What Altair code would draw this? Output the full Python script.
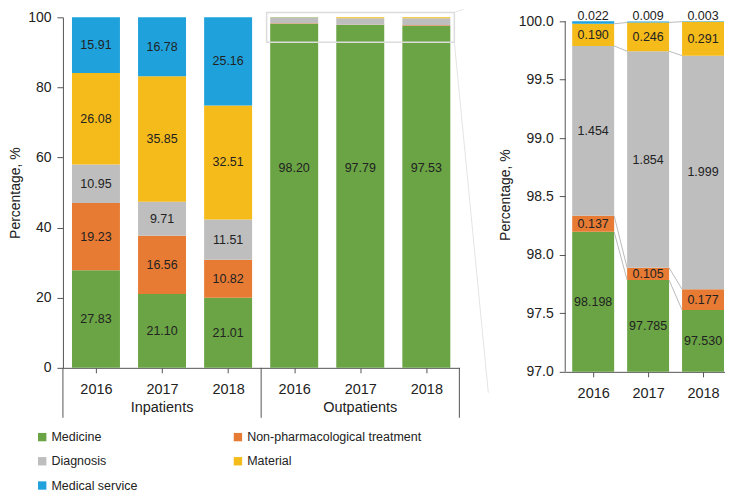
import altair as alt
import pandas as pd

FONT = "Liberation Sans"

categories = ["Medicine", "Non-pharmacological treatment", "Diagnosis", "Material", "Medical service"]
colors = ["#6aa444", "#e77b34", "#bebebe", "#f5bb1b", "#1fa2dc"]
groups = ["Inpatients", "Outpatients"]
years = ["2016", "2017", "2018"]

# Inpatients (% of cost), bottom to top in category order
inp_2016 = [27.83, 19.23, 10.95, 26.08, 15.91]
inp_2017 = [21.10, 16.56, 9.71, 35.85, 16.78]
inp_2018 = [20.01, 10.82, 11.51, 32.51, 25.16]
inp_labels_2016 = ["27.83", "19.23", "10.95", "26.08", "15.91"]
inp_labels_2017 = ["21.10", "16.56", "9.71", "35.85", "16.78"]
inp_labels_2018 = ["21.01", "10.82", "11.51", "32.51", "25.16"]

# Outpatients (% of cost)
out_2016 = [98.198, 0.137, 1.454, 0.190, 0.022]
out_2017 = [97.785, 0.105, 1.854, 0.246, 0.009]
out_2018 = [97.530, 0.177, 1.999, 0.291, 0.003]
out_labels_left = ["98.20", "97.79", "97.53"]
OUT_LABEL_Y = 57

LH = 351
LW = 397
RW = 160
RH = 355
HW_L = 0.363
R_STEP = 55.0
HW_R = 21.0 / R_STEP
R_START = -28.0 / R_STEP
R_MIN = 97.0

inp = [inp_2016, inp_2017, inp_2018]
inp_lab = [inp_labels_2016, inp_labels_2017, inp_labels_2018]
out = [out_2016, out_2017, out_2018]

rows = []
for g, series in enumerate([inp, out]):
    for i, vals in enumerate(series):
        pos = g * 3 + i
        cum = 0.0
        for k, v in enumerate(vals):
            rows.append(dict(group=groups[g], year=years[i], pos=pos, idx=i, k=k, cat=categories[k],
                             y0=cum, y1=cum + v, mid=cum + v / 2, value=v))
            cum += v
df = pd.DataFrame(rows)
df["xl"] = df["pos"] - HW_L
df["xr"] = df["pos"] + HW_L

# Left labels
lab_rows = []
for i in range(3):
    for k in range(5):
        r = df[(df.pos == i) & (df.k == k)].iloc[0]
        lab_rows.append(dict(pos=i, y=r["mid"], text=inp_lab[i][k]))
    lab_rows.append(dict(pos=3 + i, y=OUT_LABEL_Y, text=out_labels_left[i]))
lab_df = pd.DataFrame(lab_rows)

color_scale = alt.Scale(domain=categories, range=colors)

left_bars = alt.Chart(df).mark_rect().encode(
    x=alt.X("xl:Q", scale=alt.Scale(domain=[-0.5, 5.5], nice=False, zero=False),
            axis=alt.Axis(values=[0, 1, 2, 3, 4, 5],
                          labelExpr="['2016','2017','2018','2016','2017','2018'][datum.value]",
                          title=None, grid=False, tickSize=5, labelPadding=10,
                          domainColor="#555", tickColor="#555", labelFontSize=14.5)),
    x2="xr:Q",
    y=alt.Y("y0:Q", scale=alt.Scale(domain=[0, 100], nice=False),
            axis=alt.Axis(values=list(range(0, 101, 10)), title="Percentage, %", grid=False,
                          tickSize=6, labelPadding=6, domainColor="#555", tickColor="#555",
                          titlePadding=5, labelFontSize=14)),
    y2="y1:Q",
    color=alt.Color("cat:N", scale=color_scale, sort=categories,
                    legend=alt.Legend(title=None, orient="none", legendX=-27, legendY=414,
                                      direction="horizontal",
                                      columns=2, columnPadding=94, rowPadding=11.3,
                                      symbolType="square", symbolSize=70, symbolStrokeWidth=0,
                                      labelFontSize=12.5, labelOffset=3, labelColor="#222",
                                      labelLimit=300)),
)

left_text = alt.Chart(lab_df).mark_text(fontSize=12.5, color="#222", font=FONT).encode(
    x="pos:Q", y="y:Q", text="text:N")

box_df = pd.DataFrame([dict(x=2.583, x2=5.424, y=92.9, y2=101.4)])
zoom_box = alt.Chart(box_df).mark_rect(fill=None, stroke="#dcdcdc", strokeWidth=1.5).encode(
    x="x:Q", x2="x2:Q", y="y:Q", y2="y2:Q")

conn_df = pd.DataFrame([
    dict(x=5.424, x2=5.56, y=101.4, y2=102.28),
    dict(x=5.424, x2=5.938, y=92.9, y2=-7.1),
])
connectors = alt.Chart(conn_df).mark_rule(color="#e4e4e4", strokeWidth=1).encode(
    x="x:Q", x2="x2:Q", y="y:Q", y2="y2:Q")

div_df = pd.DataFrame(dict(x=[-0.5, 2.5, 5.5]))
dividers = alt.Chart(div_df).mark_rule(color="#555", strokeWidth=1).encode(
    x="x:Q", y=alt.value(LH), y2=alt.value(LH + 50))

grp_df = pd.DataFrame(dict(x=[1, 4], text=groups))
group_labels = alt.Chart(grp_df).mark_text(fontSize=14.5, color="#222", font=FONT, baseline="middle").encode(
    x="x:Q", y=alt.value(LH + 40), text="text:N")

left = alt.layer(left_bars, zoom_box, left_text, connectors, dividers, group_labels).properties(
    width=LW, height=LH)

# Right panel (zoom of outpatients, 97-100)
rdf = df[df.group == "Outpatients"].copy()
rdf["xl"] = rdf["idx"] - HW_R
rdf["xr"] = rdf["idx"] + HW_R
rdf["y0c"] = rdf["y0"].clip(lower=R_MIN)
rdf["midv"] = (rdf["y0c"] + rdf["y1"]) / 2

rlab = rdf.copy()
rlab["text"] = rlab["value"].map(lambda v: f"{v:.3f}")
rlab_in = rlab[rlab.k < 4]
rlab_top = rlab[rlab.k == 4]

rconn_rows = []
for i in range(2):
    for k in range(4):
        a = rdf[(rdf.idx == i) & (rdf.k == k)].iloc[0]
        b = rdf[(rdf.idx == i + 1) & (rdf.k == k)].iloc[0]
        rconn_rows.append(dict(x=i + HW_R, x2=i + 1 - HW_R, y=a["y1"], y2=b["y1"]))
rconn = pd.DataFrame(rconn_rows)

ry = alt.Scale(domain=[R_MIN, 100.034], nice=False, zero=False)
rx = alt.Scale(domain=[R_START, R_START + RW / R_STEP], nice=False, zero=False)

right_bars = alt.Chart(rdf).mark_rect().encode(
    x=alt.X("xl:Q", scale=rx,
            axis=alt.Axis(values=[0, 1, 2], labelExpr="['2016','2017','2018'][datum.value]",
                          title=None, grid=False, tickSize=5, labelPadding=10,
                          domainColor="#555", tickColor="#555", labelFontSize=14.5)),
    x2="xr:Q",
    y=alt.Y("y0c:Q", scale=ry,
            axis=alt.Axis(values=[97.0, 97.5, 98.0, 98.5, 99.0, 99.5, 100.0], format=".1f",
                          title="Percentage, %", grid=False, domain=False, tickSize=6,
                          labelPadding=6, tickColor="#555", titlePadding=6, labelFontSize=14)),
    y2="y1:Q",
    color=alt.Color("cat:N", scale=color_scale, legend=None),
)
right_conn = alt.Chart(rconn).mark_rule(color="#aaaaaa", strokeWidth=0.8).encode(
    x="x:Q", x2="x2:Q", y="y:Q", y2="y2:Q")
right_text = alt.Chart(rlab_in).mark_text(fontSize=12.5, color="#222", font=FONT).encode(
    x="idx:Q", y="midv:Q", text="text:N")
right_top = alt.Chart(rlab_top).mark_text(fontSize=12.5, color="#222", font=FONT, baseline="alphabetic", dy=-1.5).encode(
    x="idx:Q", y=alt.datum(100), text="text:N")
axis_df = pd.DataFrame([dict(y=R_MIN, y2=100.0)])
right_axis = alt.Chart(axis_df).mark_rule(color="#555", strokeWidth=1).encode(
    x=alt.value(0), y="y:Q", y2="y2:Q")

right = alt.layer(right_bars, right_conn, right_text, right_top, right_axis).properties(
    width=RW, height=RH)

chart = alt.hconcat(left, right, spacing=106, bounds="flush").properties(
    padding={"left": 0, "top": 0, "right": 0, "bottom": 0}
).configure_view(stroke=None).configure_axis(
    labelFont=FONT, titleFont=FONT, labelColor="#222", titleColor="#222",
    titleFontSize=14, titleFontWeight="normal"
).configure_legend(labelFont=FONT).configure_text(font=FONT)

chart.save("out.html", embed_options={"renderer": "svg", "actions": False})
